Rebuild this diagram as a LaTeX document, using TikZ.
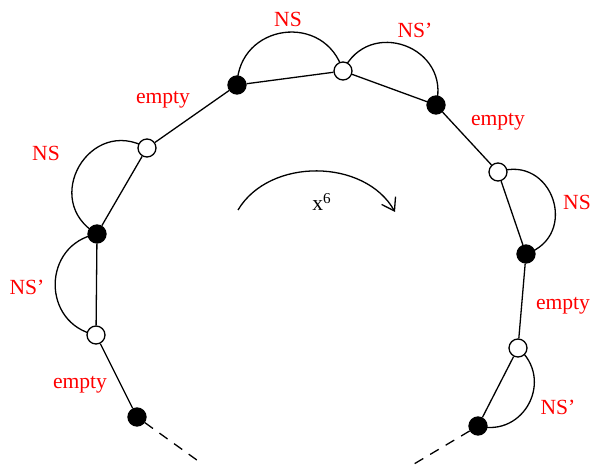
\documentclass[tikz,border=0pt]{standalone}
\usepackage{fontspec}
\setmainfont{Liberation Serif}
\usetikzlibrary{arrows.meta,backgrounds}

\begin{document}
\begin{tikzpicture}[x=0.5pt, y=0.5pt, line width=0.65pt,
    >={Straight Barb[length=6pt, width=8pt]},
    blackdot/.style={circle, draw, fill=black, inner sep=0pt, minimum size=9pt},
    whitedot/.style={circle, draw, fill=white, inner sep=0pt, minimum size=9pt},
    lbl/.style={text=red, font=\fontsize{10.8}{13}\selectfont},
    loop/.style 2 args={line width=0.65pt, bend left=#1, looseness=#2}]
    \useasboundingbox (0,0) rectangle (593,466);

    % the ring of points
    \node[blackdot] (b1) at (137,49) {};
    \node[whitedot] (w1) at (96,131) {};
    \node[blackdot] (b2) at (97,232) {};
    \node[whitedot] (w2) at (147,318) {};
    \node[blackdot] (b3) at (237,381) {};
    \node[whitedot] (w3) at (343,395) {};
    \node[blackdot] (b4) at (436,361) {};
    \node[whitedot] (w4) at (498,294) {};
    \node[blackdot] (b5) at (526,212) {};
    \node[whitedot] (w5) at (518,118) {};
    \node[blackdot] (b6) at (478,40) {};
    \coordinate (e1) at (201,3);
    \coordinate (e2) at (414,2);

    \draw (b1) -- (w1) -- (b2) -- (w2) -- (b3) -- (w3) -- (b4) -- (w4) -- (b5) -- (w5) -- (b6);
    \draw[dash pattern=on 5pt off 4pt] (b1) -- (e1);
    \draw[dash pattern=on 5pt off 4pt] (b6) -- (e2);

    % the loops, under the dots
    \begin{scope}[on background layer]
    \draw[loop={90}{1.7}] (b2.center) to (w2.center);
    \draw[loop={79}{1.42}] (w1.center) to (b2.center);
    \draw[loop={81}{1.48}] (b3.center) to (w3.center);
    \draw[loop={85}{1.56}] (w3.center) to (b4.center);
    \draw[loop={90}{1.7}] (w4.center) to (b5.center);
    \draw[loop={77}{1.4}] (w5.center) to (b6.center);
    \end{scope}

    \node[lbl] (l1) at (288,447) {NS};
    \node[lbl] (l2) at (415,436) {NS’};
    \node[lbl] (l3) at (163,366) {empty};
    \node[lbl] (l4) at (46,313) {NS};
    \node[lbl] (l5) at (27,179) {NS’};
    \node[lbl] (l6) at (80,81) {empty};
    \node[lbl] (l7) at (498,344) {empty};
    \node[lbl] (l8) at (577,264) {NS};
    \node[lbl] (l9) at (563,160) {empty};
    \node[lbl] (l10) at (558,59) {NS’};

    % rotation
    \coordinate (rs) at (238,256);
    \coordinate (re) at (395,254);
    \draw[->] (rs) to[bend left=60] (re);
    \node[font=\fontsize{10.8}{13}\selectfont] (rot) at (322,264) {x\textsuperscript{6}};
\end{tikzpicture}
\end{document}
